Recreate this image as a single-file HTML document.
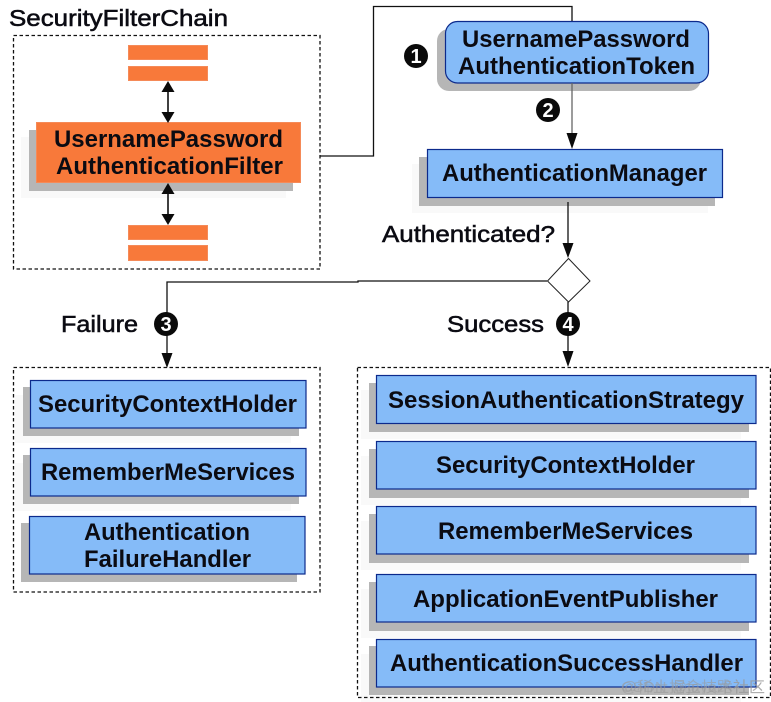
<!DOCTYPE html>
<html><head><meta charset="utf-8"><style>
html,body{margin:0;padding:0;background:#fff;width:771px;height:702px;overflow:hidden}
svg{display:block}
text{font-family:"Liberation Sans","Noto Sans CJK SC",sans-serif;fill:#0b0b12}
.b{font-weight:bold;font-size:24px}
.r{font-size:23px;stroke:#0b0b12;stroke-width:.55px}
.n{font-weight:bold;font-size:20px;fill:#fff;text-anchor:middle}
</style></head><body>
<svg width="771" height="702" viewBox="0 0 771 702" xmlns="http://www.w3.org/2000/svg">
<!-- faint shadows -->
<g fill="#f9f9f9">
<rect x="21" y="137" width="265" height="61"/>
<rect x="412" y="164" width="296" height="49"/>
<rect x="15" y="395" width="276" height="48"/>
<rect x="15" y="463" width="276" height="48"/>
<rect x="361" y="390" width="380" height="49"/>
<rect x="361" y="456" width="380" height="49"/>
<rect x="361" y="521" width="380" height="49"/>
<rect x="361" y="589" width="380" height="49"/>
<rect x="361" y="654" width="380" height="48"/>
</g>
<!-- dashed containers -->
<g fill="none" stroke="#111" stroke-width="1.3" stroke-dasharray="3.5 2.5">
<rect x="13.5" y="35.5" width="306.5" height="233.5"/>
<rect x="13.5" y="367.5" width="306.5" height="224.5"/>
<rect x="357.5" y="367.5" width="413" height="330"/>
</g>
<!-- grey shadows -->
<g fill="#b6b6b6">
<rect x="29" y="130" width="264" height="61"/>
<rect x="437" y="29" width="264" height="62" rx="12"/>
<rect x="419" y="157" width="296" height="49"/>
<rect x="23" y="387" width="276" height="49"/>
<rect x="23" y="455" width="276" height="49"/>
<rect x="21" y="523" width="276" height="59"/>
<rect x="369" y="383" width="380" height="49"/>
<rect x="369" y="449" width="380" height="49"/>
<rect x="369" y="514" width="380" height="49"/>
<rect x="369" y="582" width="380" height="49"/>
<rect x="369" y="646" width="380" height="49"/>
</g>
<!-- orange -->
<g fill="#f8793a" stroke="#f58a58" stroke-width="1">
<rect x="128.5" y="45.5" width="79" height="14"/>
<rect x="128.5" y="66.5" width="79" height="14"/>
<rect x="128.5" y="225.5" width="79" height="14"/>
<rect x="128.5" y="245.5" width="79" height="15"/>
<rect x="36.5" y="122.5" width="264" height="60"/>
</g>
<!-- blue -->
<g fill="#85bbf8" stroke="#0c2a8c" stroke-width="1.2">
<rect x="445.5" y="21.5" width="263" height="61.5" rx="12"/>
<rect x="427.5" y="149.5" width="295" height="48"/>
<rect x="30.5" y="380.5" width="275.5" height="47.5"/>
<rect x="30.5" y="448.5" width="275.5" height="47.5"/>
<rect x="29.5" y="516.5" width="275.5" height="57.5"/>
<rect x="376.5" y="375.5" width="379.5" height="48"/>
<rect x="376.5" y="441.5" width="379.5" height="47.5"/>
<rect x="376.5" y="506.5" width="379.5" height="47.5"/>
<rect x="376.5" y="574.5" width="379.5" height="47.5"/>
<rect x="376.5" y="639.5" width="379.5" height="47.5"/>
</g>
<!-- connectors -->
<g fill="none" stroke="#111" stroke-width="1.3">
<path d="M168 88V116" stroke-width="1.6"/>
<path d="M168 190V218" stroke-width="1.6"/>
<path d="M320 156H373.5V6.500H572V21"/>
<path d="M572 83V135" stroke="#666"/>
<path d="M568 202V245"/>
<path d="M547 281H358V282H167V357"/>
<path d="M568 302V353"/>
</g>
<g fill="#0b0b0b">
<path d="M168 81l-6.500 11h13z"/>
<path d="M168 123l-6.500-11h13z"/>
<path d="M168 183l-6.500 11h13z"/>
<path d="M168 225l-6.500-11h13z"/>
<path d="M572 149l-5.500-16h11z"/>
<path d="M568 258l-5.500-15h11z"/>
<path d="M167 368l-5.500-15h11z"/>
<path d="M568 367l-5.500-16h11z"/>
</g>
<path d="M568.500 258.500L590 281L568.500 302L547.500 281Z" fill="#fff" stroke="#222" stroke-width="1"/>
<!-- badges -->
<g fill="#0a0a0a">
<circle cx="416" cy="56" r="12"/>
<circle cx="548" cy="110" r="12"/>
<circle cx="166" cy="324" r="12"/>
<circle cx="568" cy="324" r="12"/>
</g>
<text class="n" x="416" y="63" style="fill:#fff">1</text>
<text class="n" x="548" y="117" style="fill:#fff">2</text>
<text class="n" x="166" y="331" style="fill:#fff">3</text>
<text class="n" x="568" y="331" style="fill:#fff">4</text>
<!-- labels -->
<text class="r" x="9" y="26" textLength="219" lengthAdjust="spacingAndGlyphs">SecurityFilterChain</text>
<text class="r" x="382" y="242" textLength="173" lengthAdjust="spacingAndGlyphs">Authenticated?</text>
<text class="r" x="61" y="332" textLength="77" lengthAdjust="spacingAndGlyphs">Failure</text>
<text class="r" x="447" y="332" textLength="97" lengthAdjust="spacingAndGlyphs">Success</text>
<text class="b" x="54" y="147" textLength="229" lengthAdjust="spacingAndGlyphs">UsernamePassword</text>
<text class="b" x="56" y="174" textLength="227" lengthAdjust="spacingAndGlyphs">AuthenticationFilter</text>
<text class="b" x="462" y="47" textLength="228" lengthAdjust="spacingAndGlyphs">UsernamePassword</text>
<text class="b" x="458" y="74" textLength="237" lengthAdjust="spacingAndGlyphs">AuthenticationToken</text>
<text class="b" x="442" y="181" textLength="265" lengthAdjust="spacingAndGlyphs">AuthenticationManager</text>
<text class="b" x="38" y="412" textLength="259" lengthAdjust="spacingAndGlyphs">SecurityContextHolder</text>
<text class="b" x="41" y="480" textLength="254" lengthAdjust="spacingAndGlyphs">RememberMeServices</text>
<text class="b" x="84" y="540" textLength="166" lengthAdjust="spacingAndGlyphs">Authentication</text>
<text class="b" x="84" y="567" textLength="167" lengthAdjust="spacingAndGlyphs">FailureHandler</text>
<text class="b" x="388" y="408" textLength="356" lengthAdjust="spacingAndGlyphs">SessionAuthenticationStrategy</text>
<text class="b" x="436" y="473" textLength="259" lengthAdjust="spacingAndGlyphs">SecurityContextHolder</text>
<text class="b" x="438" y="539" textLength="255" lengthAdjust="spacingAndGlyphs">RememberMeServices</text>
<text class="b" x="413" y="607" textLength="305" lengthAdjust="spacingAndGlyphs">ApplicationEventPublisher</text>
<text class="b" x="390" y="671" textLength="353" lengthAdjust="spacingAndGlyphs">AuthenticationSuccessHandler</text>
<!-- watermark -->
<text x="621" y="692" font-size="15" textLength="144" lengthAdjust="spacingAndGlyphs" style="fill:#999;fill-opacity:.6">@稀土掘金技术社区</text>
<text x="621" y="692" font-size="15" textLength="144" lengthAdjust="spacingAndGlyphs" style="fill:#999;fill-opacity:.5">CSDN @java路社区</text>
</svg>
</body></html>
